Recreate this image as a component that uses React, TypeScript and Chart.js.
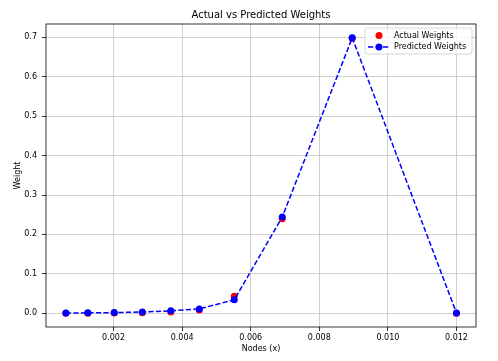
import React, { useEffect, useRef } from 'react';
import { Chart, registerables } from 'chart.js';

Chart.register(...registerables);

const chartTitle = 'Actual vs Predicted Weights';
const xLabel = 'Nodes (x)';
const yLabel = 'Weight';
const actualLabel = 'Actual Weights';
const predictedLabel = 'Predicted Weights';

const nodesX = [0.00061, 0.00125, 0.00202, 0.00284, 0.00367, 0.0045, 0.00552, 0.00692, 0.00896, 0.012];
const actualWeights = [0.0, 0.0, 0.0005, 0.001, 0.003, 0.008, 0.043, 0.24, 0.698, 0.0];
const predictedWeights = [0.0005, 0.001, 0.0015, 0.003, 0.006, 0.011, 0.034, 0.244, 0.699, 0.0005];
const xTicks = [0.002, 0.004, 0.006, 0.008, 0.01, 0.012];
const yTicks = [0.0, 0.1, 0.2, 0.3, 0.4, 0.5, 0.6, 0.7];

const FONT = 'DejaVu Sans';
const DASH = [5.2, 2.3];
const GRID = '#c4c4c4';

const framePlugin = {
  id: 'frameAndLegend',
  afterDatasetsDraw(chart: any) {
    const { ctx, chartArea } = chart;
    const { left, right, top, bottom } = chartArea;
    ctx.save();
    ctx.strokeStyle = '#000';
    ctx.lineWidth = 0.8;
    ctx.setLineDash([]);
    ctx.strokeRect(left, top, right - left, bottom - top);

    // title, centred over the plot area
    ctx.fillStyle = '#000';
    ctx.font = `10px "${FONT}"`;
    ctx.textAlign = 'center';
    ctx.textBaseline = 'middle';
    ctx.fillText(chartTitle, (left + right) / 2, 15.5);

    // legend
    const bw = 107;
    const bh = 26;
    const bx = right - 4 - bw;
    const by = top + 4;
    ctx.beginPath();
    const r = 2;
    ctx.moveTo(bx + r, by);
    ctx.lineTo(bx + bw - r, by);
    ctx.arcTo(bx + bw, by, bx + bw, by + r, r);
    ctx.lineTo(bx + bw, by + bh - r);
    ctx.arcTo(bx + bw, by + bh, bx + bw - r, by + bh, r);
    ctx.lineTo(bx + r, by + bh);
    ctx.arcTo(bx, by + bh, bx, by + bh - r, r);
    ctx.lineTo(bx, by + r);
    ctx.arcTo(bx, by, bx + r, by, r);
    ctx.closePath();
    ctx.fillStyle = 'rgba(255,255,255,0.8)';
    ctx.fill();
    ctx.strokeStyle = '#cccccc';
    ctx.lineWidth = 0.8;
    ctx.stroke();

    const hx0 = bx + 3;
    const hx1 = hx0 + 22;
    const hc = (hx0 + hx1) / 2;
    const row1 = by + 7.5;
    const row2 = by + 19;
    ctx.fillStyle = '#ff0000';
    ctx.beginPath();
    ctx.arc(hc, row1, 3.5, 0, Math.PI * 2);
    ctx.fill();
    ctx.strokeStyle = '#0000ff';
    ctx.lineWidth = 1.5;
    ctx.setLineDash(DASH);
    ctx.beginPath();
    ctx.moveTo(hx0, row2);
    ctx.lineTo(hx1, row2);
    ctx.stroke();
    ctx.setLineDash([]);
    ctx.fillStyle = '#0000ff';
    ctx.beginPath();
    ctx.arc(hc, row2, 3.5, 0, Math.PI * 2);
    ctx.fill();

    ctx.fillStyle = '#000';
    ctx.font = `8px "${FONT}"`;
    ctx.textBaseline = 'middle';
    ctx.textAlign = 'left';
    ctx.fillText(actualLabel, hx1 + 4, row1);
    ctx.fillText(predictedLabel, hx1 + 4, row2);
    ctx.restore();
  },
};

export default function App() {
  const ref = useRef<HTMLCanvasElement | null>(null);
  useEffect(() => {
    if (!ref.current) return;
    const chart = new Chart(ref.current, {
      type: 'scatter',
      data: {
        datasets: [
          {
            label: predictedLabel,
            data: nodesX.map((x, i) => ({ x, y: predictedWeights[i] })),
            showLine: true,
            borderColor: '#0000ff',
            backgroundColor: '#0000ff',
            borderWidth: 1.5,
            borderDash: DASH,
            pointRadius: 3.5,
            pointBorderWidth: 0,
            pointBackgroundColor: '#0000ff',
            order: 1,
          },
          {
            label: actualLabel,
            data: nodesX.map((x, i) => ({ x, y: actualWeights[i] })),
            showLine: false,
            backgroundColor: '#ff0000',
            borderColor: '#ff0000',
            pointRadius: 3.5,
            pointBorderWidth: 0,
            order: 2,
          },
        ],
      },
      options: {
        responsive: false,
        animation: false,
        layout: { padding: { left: 0, right: 22, top: 24, bottom: 0 } },
        plugins: {
          legend: { display: false },
          tooltip: { enabled: false },
          title: { display: false },
        },
        scales: {
          x: {
            type: 'linear',
            min: 0.00003,
            max: 0.01257,
            afterBuildTicks: (scale: any) => {
              scale.ticks = xTicks.map((v) => ({ value: v }));
            },
            afterFit: (scale: any) => {
              scale.height = 34;
            },
            ticks: {
              color: '#000',
              font: { family: FONT, size: 8 },
              padding: 2,
              maxRotation: 0,
              callback: (v: any) => Number(v).toFixed(3),
            },
            grid: {
              color: GRID,
              lineWidth: 0.8,
              tickColor: '#000',
              tickLength: 4,
              tickWidth: 0.8,
            },
            border: { display: false },
            title: {
              display: true,
              text: xLabel,
              color: '#000',
              font: { family: FONT, size: 8 },
              padding: { top: 0, bottom: 7 },
            },
          },
          y: {
            type: 'linear',
            min: -0.035,
            max: 0.734,
            afterBuildTicks: (scale: any) => {
              scale.ticks = yTicks.map((v) => ({ value: v }));
            },
            afterFit: (scale: any) => {
              scale.width = 46;
            },
            ticks: {
              color: '#000',
              font: { family: FONT, size: 8 },
              padding: 5,
              callback: (v: any) => Number(v).toFixed(1),
            },
            grid: {
              color: GRID,
              lineWidth: 0.8,
              tickColor: '#000',
              tickLength: 4,
              tickWidth: 0.8,
            },
            border: { display: false },
            title: {
              display: true,
              text: yLabel,
              color: '#000',
              font: { family: FONT, size: 8 },
              padding: { top: 13, bottom: 0 },
            },
          },
        },
      },
      plugins: [framePlugin],
    } as any);
    return () => chart.destroy();
  }, []);
  return (
    <div style={{ position: 'fixed', left: 0, top: 0, width: 498, height: 361, background: '#fff' }}>
      <canvas ref={ref} width={498} height={361} />
    </div>
  );
}
